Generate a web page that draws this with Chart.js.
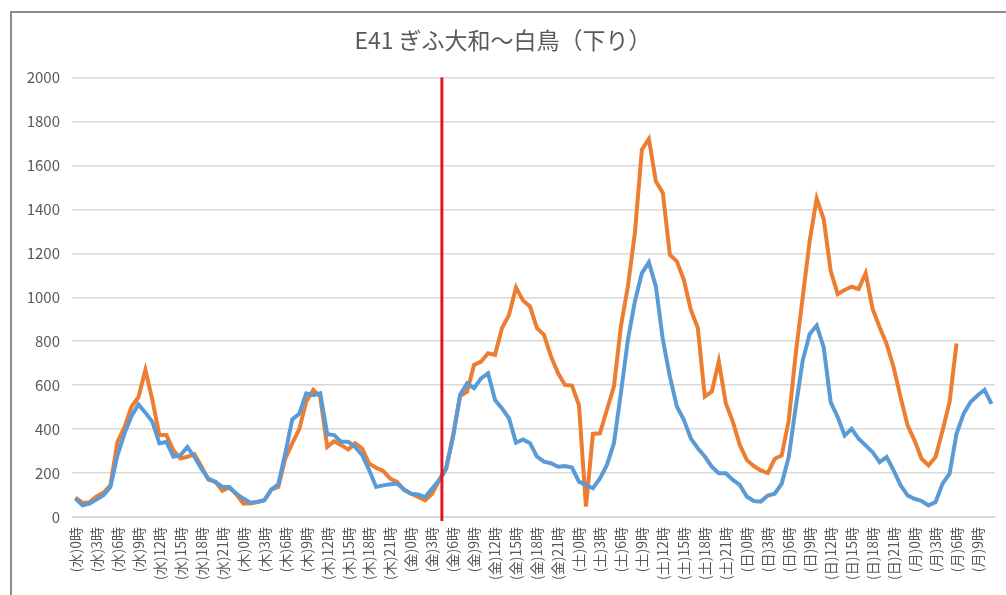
<!DOCTYPE html>
<html>
<head>
<meta charset="utf-8">
<script src="https://cdn.jsdelivr.net/npm/chart.js@4.4.0/dist/chart.umd.min.js"></script>
<style>
  html, body { margin: 0; padding: 0; background: #fff; overflow: hidden; }
  #frame { position: absolute; left: 10px; top: 11px; width: 1010px; height: 600px; border: 2px solid #8c8c8c; }
  #wrap { position: absolute; left: 0; top: 0; width: 1006px; height: 595px; }
</style>
</head>
<body>
<div id="frame"></div>
<div id="wrap"><canvas id="trafficChart"></canvas></div>
<script>
const days = ['水', '木', '金', '土', '日', '月'];
const hourCount = 132;

const blueValues = [
  84, 53, 61, 79, 99, 137, 281, 380, 459, 512, 475, 433,
  335, 342, 274, 281, 319, 274, 220, 175, 160, 137, 137, 106,
  84, 65, 68, 76, 125, 149, 289, 444, 470, 563, 555, 563,
  377, 373, 342, 342, 319, 281, 213, 137, 144, 149, 152, 125,
  106, 103, 91, 129, 167, 220, 365, 555, 608, 586, 631, 654,
  532, 494, 449, 338, 353, 336, 275, 252, 245, 229, 232, 225,
  161, 146, 131, 176, 237, 336, 564, 807, 981, 1110, 1159, 1050,
  807, 640, 503, 442, 358, 313, 275, 229, 199, 199, 169, 146,
  93, 73, 70, 98, 106, 152, 273, 500, 712, 833, 871, 773,
  523, 455, 371, 401, 356, 326, 295, 250, 273, 212, 144, 98,
  83, 73, 53, 68, 152, 197, 379, 470, 523, 553, 579, 515
];

const orangeValues = [
  88, 64, 67, 94, 110, 145, 342, 408, 502, 545, 669, 532,
  373, 373, 304, 266, 274, 286, 231, 170, 160, 119, 134, 103,
  61, 61, 68, 76, 125, 137, 266, 335, 400, 525, 578, 548,
  319, 345, 327, 307, 335, 312, 243, 224, 210, 175, 160, 122,
  106, 91, 76, 106, 167, 220, 373, 550, 570, 692, 707, 745,
  738, 860, 920, 1045, 985, 958, 860, 829, 731, 655, 601, 598,
  510, 47, 378, 381, 488, 594, 867, 1050, 1293, 1672, 1721, 1528,
  1475, 1194, 1164, 1080, 943, 860, 548, 571, 708, 518, 434, 328,
  260, 232, 212, 200, 265, 280, 439, 742, 1000, 1257, 1449, 1356,
  1121, 1015, 1033, 1048, 1038, 1110, 947, 864, 788, 682, 545, 417,
  348, 265, 235, 273, 394, 523, 790, null, null, null, null, null
];

// hour labels, only every 3rd one is shown on the axis
const hourLabels = [];
for (let i = 0; i < hourCount; i++) {
  hourLabels.push('(' + days[Math.floor(i / 24)] + ')' + (i % 24) + '時');
}

const redLineHour = 52.4;

const redLinePlugin = {
  id: 'redLine',
  afterDatasetsDraw(chart) {
    const x = chart.scales.x.getPixelForValue(redLineHour);
    const area = chart.chartArea;
    const ctx = chart.ctx;
    ctx.save();
    ctx.strokeStyle = '#e8141b';
    ctx.lineWidth = 3;
    ctx.beginPath();
    ctx.moveTo(x, area.top);
    ctx.lineTo(x, area.bottom + 4);
    ctx.stroke();
    ctx.restore();
  }
};

const fontName = '"Noto Sans CJK JP", "Noto Sans", sans-serif';
const textGray = '#595959';

new Chart(document.getElementById('trafficChart'), {
  type: 'line',
  data: {
    labels: hourLabels,
    datasets: [
      {
        label: '系列1',
        data: blueValues,
        borderColor: '#5b9bd5',
        borderWidth: 4,
        pointRadius: 0,
        tension: 0,
        fill: false
      },
      {
        label: '系列2',
        data: orangeValues,
        borderColor: '#ed7d31',
        borderWidth: 4,
        pointRadius: 0,
        tension: 0,
        fill: false
      }
    ]
  },
  options: {
    responsive: true,
    maintainAspectRatio: false,
    animation: false,
    layout: { padding: { top: 26, right: 0, left: 0, bottom: 0 } },
    plugins: {
      legend: { display: false },
      tooltip: { enabled: false },
      title: {
        display: true,
        text: 'E41 ぎふ大和～白鳥（下り）',
        color: textGray,
        font: { family: fontName, size: 23, weight: 'normal' },
        padding: { top: 0, bottom: 24 }
      }
    },
    scales: {
      x: {
        offset: true,
        grid: { display: false, drawTicks: false },
        border: { display: true, color: '#d9d9d9', width: 1 },
        ticks: {
          autoSkip: false,
          maxRotation: 90,
          minRotation: 90,
          padding: 10,
          color: textGray,
          font: { family: fontName, size: 14 },
          callback: function(value, index) {
            return index % 3 === 0 ? hourLabels[index] : '';
          }
        },
        afterFit: function(axis) {
          axis.height = 78;
          axis.paddingLeft = 0;
          axis.paddingRight = 11;
        }
      },
      y: {
        min: 0,
        max: 2000,
        grid: { color: '#d9d9d9', lineWidth: 1.5, drawTicks: false },
        border: { display: false },
        ticks: {
          stepSize: 200,
          padding: 12,
          color: textGray,
          font: { family: fontName, size: 15 },
          callback: function(value) { return String(value); }
        },
        afterFit: function(axis) { axis.width = 72; }
      }
    }
  },
  plugins: [redLinePlugin]
});
</script>
</body>
</html>
